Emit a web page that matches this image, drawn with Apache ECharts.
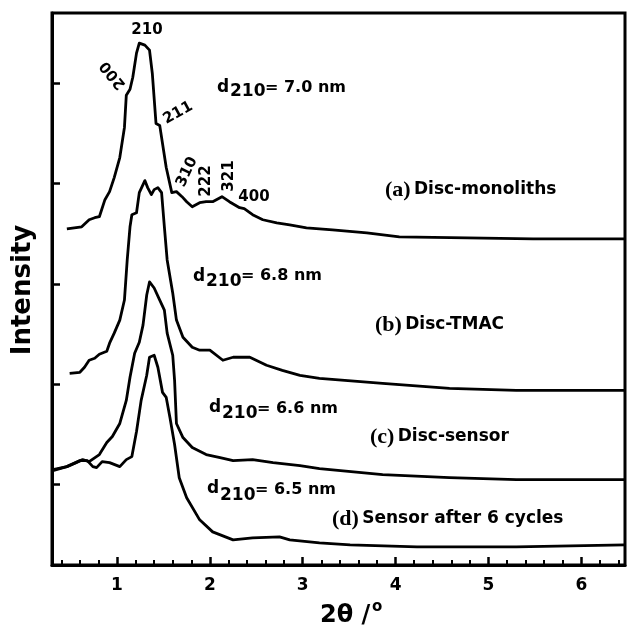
<!DOCTYPE html>
<html>
<head>
<meta charset="utf-8">
<script src="https://cdn.jsdelivr.net/npm/echarts@6/dist/echarts.min.js"></script>
<style>
  html, body { margin: 0; padding: 0; background: #fff; }
  #main { width: 628px; height: 629px; }
</style>
</head>
<body>
<div id="main"></div>
<script>
// 2theta (deg) / intensity (a.u., offset)
var xA = [0.46,0.62,0.70,0.76,0.81,0.87,0.92,0.97,1.03,1.08,1.10,1.14,1.17,1.21,1.24,1.30,1.35,1.38,1.42,1.46,1.49,1.53,1.59,1.64,1.70,1.75,1.81,1.89,1.96,2.03,2.13,2.21,2.32,2.37,2.46,2.57,2.72,2.86,3.04,3.32,3.69,4.04,4.77,5.48,6.47];
var yA = [3.35,3.37,3.44,3.46,3.47,3.64,3.72,3.86,4.06,4.36,4.68,4.74,4.86,5.10,5.20,5.18,5.13,4.90,4.40,4.38,4.20,3.96,3.71,3.72,3.67,3.62,3.57,3.61,3.62,3.62,3.67,3.62,3.56,3.55,3.49,3.44,3.41,3.39,3.36,3.34,3.31,3.27,3.26,3.25,3.25];

var xB = [0.49,0.60,0.65,0.70,0.76,0.81,0.89,0.92,0.97,1.03,1.08,1.11,1.14,1.16,1.21,1.24,1.30,1.33,1.37,1.40,1.44,1.48,1.51,1.54,1.60,1.64,1.71,1.81,1.89,2.00,2.14,2.25,2.43,2.61,2.78,2.97,3.18,3.86,4.58,5.30,6.47];
var yB = [1.91,1.92,1.97,2.04,2.06,2.10,2.13,2.21,2.31,2.44,2.64,3.04,3.37,3.49,3.51,3.71,3.83,3.76,3.69,3.74,3.76,3.71,3.37,3.04,2.71,2.44,2.27,2.17,2.14,2.14,2.04,2.07,2.07,1.99,1.94,1.89,1.86,1.81,1.76,1.74,1.74];

var xC = [0.31,0.46,0.56,0.63,0.70,0.81,0.89,0.95,1.03,1.10,1.14,1.19,1.24,1.28,1.32,1.35,1.40,1.46,1.51,1.54,1.60,1.62,1.64,1.71,1.81,1.96,2.11,2.25,2.46,2.68,2.97,3.18,3.86,4.58,5.30,6.47];
var yC = [0.95,0.98,1.02,1.05,1.03,1.10,1.22,1.28,1.41,1.64,1.87,2.11,2.22,2.39,2.69,2.82,2.76,2.64,2.54,2.31,2.09,1.84,1.41,1.27,1.17,1.10,1.07,1.04,1.05,1.02,0.99,0.96,0.90,0.87,0.85,0.85];

var xD = [0.31,0.46,0.60,0.68,0.74,0.78,0.84,0.92,1.03,1.10,1.16,1.21,1.26,1.32,1.35,1.40,1.44,1.49,1.53,1.57,1.62,1.67,1.75,1.89,2.03,2.25,2.46,2.75,2.86,3.18,3.51,4.23,5.30,6.47];
var yD = [0.94,0.98,1.04,1.04,0.98,0.97,1.03,1.02,0.98,1.05,1.08,1.33,1.64,1.89,2.07,2.09,1.97,1.72,1.67,1.47,1.20,0.87,0.67,0.45,0.33,0.25,0.27,0.28,0.25,0.22,0.20,0.18,0.18,0.20];

var xMajorTicks = [1, 2, 3, 4, 5, 6];
var xMinorTicks = [0.4,0.6,0.8,1.2,1.4,1.6,1.8,2.2,2.4,2.6,2.8,3.2,3.4,3.6,3.8,4.2,4.4,4.6,4.8,5.2,5.4,5.6,5.8,6.2,6.4];
var yTicks = [0.8, 1.8, 2.8, 3.8, 4.8];

var sans = 'DejaVu Sans';
var serif = 'Liberation Serif';

function pairs(xs, ys) {
    var out = [];
    for (var i = 0; i < xs.length; i++) out.push([xs[i], ys[i]]);
    return out;
}

function curve(name, xs, ys) {
    return {
        name: name,
        type: 'line',
        xAxisIndex: 0,
        data: pairs(xs, ys),
        showSymbol: false,
        silent: true,
        lineStyle: { color: '#000', width: 2.8, join: 'round' }
    };
}

// bold text at x,y (left/middle unless align given), rotation in degrees ccw
function txt(x, y, s, size, align, rot, family) {
    return {
        type: 'text',
        x: x, y: y,
        rotation: (rot || 0) * Math.PI / 180,
        style: {
            text: s, fill: '#000',
            font: 'bold ' + size + 'px "' + (family || sans) + '"',
            align: align || 'left',
            verticalAlign: 'middle'
        }
    };
}

function spacing(x, yd, ysub, yeq, val) {
    return [
        txt(x, yd, 'd', 17),
        txt(x + 13, ysub, '210', 17),
        txt(x + 48, yeq, '= ' + val + ' nm', 16)
    ];
}

function sampleLabel(x, y, tag, name) {
    return {
        type: 'text', x: x, y: y,
        style: {
            text: '{p|' + tag + '} {s|' + name + '}',
            verticalAlign: 'middle',
            rich: {
                p: { fontFamily: serif, fontWeight: 'bold', fontSize: 22, fill: '#000' },
                s: { fontFamily: sans, fontWeight: 'bold', fontSize: 17, fill: '#000' }
            }
        }
    };
}

var graphics = [
    txt(147, 30, '210', 15, 'center'),
    txt(113, 75, '200', 15, 'center', 129),
    txt(178, 113, '211', 15, 'center', 29),
    txt(187, 172, '310', 15, 'center', 65),
    txt(206, 181, '222', 15, 'center', 90),
    txt(229, 176, '321', 15, 'center', 90),
    txt(254, 197, '400', 15, 'center'),
    sampleLabel(385, 190, '(a)', 'Disc-monoliths'),
    sampleLabel(375, 325, '(b)', 'Disc-TMAC'),
    sampleLabel(370, 437, '(c)', 'Disc-sensor'),
    sampleLabel(332, 519, '(d)', 'Sensor after 6 cycles'),
    txt(23, 290, 'Intensity', 26, 'center', 90),
    txt(320, 616, '2\u03b8 /', 24),
    txt(372, 607, 'o', 15)
].concat(
    spacing(217, 88, 92, 88, '7.0'),
    spacing(193, 277, 282, 276, '6.8'),
    spacing(209, 408, 414, 409, '6.6'),
    spacing(207, 489, 496, 490, '6.5')
);

var myChart = echarts.init(document.getElementById('main'));
var option = {
    animation: false,
    backgroundColor: '#fff',
    grid: { left: 52, right: 3, top: 13, bottom: 64, show: true, borderColor: '#000', borderWidth: 3 },
    xAxis: [{
        type: 'value', min: 0.3, max: 6.47, position: 'bottom',
        axisLine: { onZero: false, lineStyle: { color: '#000', width: 3 } },
        axisTick: { inside: true, length: 8, customValues: xMajorTicks, lineStyle: { color: '#000', width: 2.5 } },
        axisLabel: { customValues: xMajorTicks, color: '#000', fontFamily: sans, fontWeight: 'bold', fontSize: 17, margin: 12 },
        splitLine: { show: false }
    }, {
        type: 'value', min: 0.3, max: 6.47, position: 'bottom',
        axisLine: { show: false, onZero: false },
        axisTick: { inside: true, length: 5, customValues: xMinorTicks, lineStyle: { color: '#000', width: 2 } },
        axisLabel: { show: false },
        splitLine: { show: false }
    }],
    yAxis: {
        type: 'value', min: 0, max: 5.5,
        axisLine: { onZero: false, lineStyle: { color: '#000', width: 3 } },
        axisTick: { inside: true, length: 8, customValues: yTicks, lineStyle: { color: '#000', width: 2.5 } },
        axisLabel: { show: false },
        splitLine: { show: false }
    },
    series: [
        curve('(a) Disc-monoliths', xA, yA),
        curve('(b) Disc-TMAC', xB, yB),
        curve('(c) Disc-sensor', xC, yC),
        curve('(d) Sensor after 6 cycles', xD, yD)
    ],
    graphic: graphics
};
myChart.setOption(option);
</script>
</body>
</html>
